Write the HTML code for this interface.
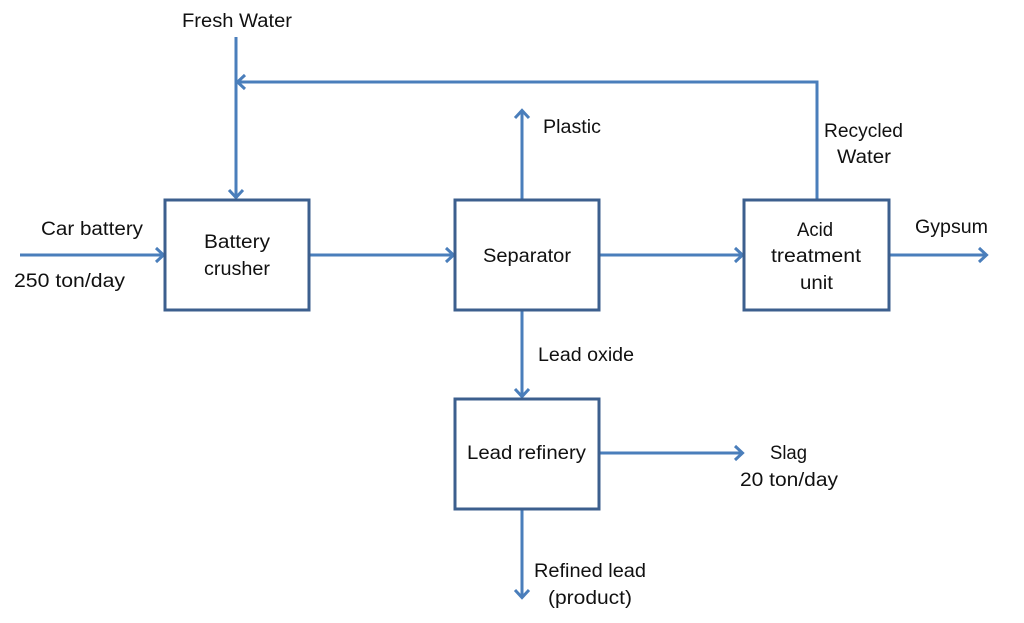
<!DOCTYPE html>
<html><head><meta charset="utf-8"><style>
html,body{margin:0;padding:0;background:#fff;width:1024px;height:623px;overflow:hidden}
svg text{font-family:"Liberation Sans",sans-serif;font-size:19px;fill:#111}
</style></head><body>
<svg width="1024" height="623" viewBox="0 0 1024 623" xmlns="http://www.w3.org/2000/svg">
<defs>
<marker id="a" viewBox="0 0 18 18" refX="16" refY="9" markerWidth="18" markerHeight="18" markerUnits="userSpaceOnUse" orient="auto">
<path d="M8,2 L15.5,9 L8,16" fill="none" stroke="#4a7ebb" stroke-width="3"/>
</marker>
</defs>
<g stroke="#4a7ebb" stroke-width="3" fill="none" marker-end="url(#a)">
<line x1="20" y1="255" x2="164" y2="255"/>
<line x1="309" y1="255" x2="454" y2="255"/>
<line x1="599" y1="255" x2="743" y2="255"/>
<line x1="889" y1="255" x2="987" y2="255"/>
<line x1="236" y1="37" x2="236" y2="198"/>
<polyline points="817,199 817,82 237,82"/>
<line x1="522" y1="199" x2="522" y2="110"/>
<line x1="522" y1="310" x2="522" y2="397"/>
<line x1="599" y1="453" x2="743" y2="453"/>
<line x1="522" y1="509" x2="522" y2="598"/>
</g>
<g stroke="#3c5f8e" stroke-width="3" fill="#fff">
<rect x="165" y="200" width="144" height="110"/>
<rect x="455" y="200" width="144" height="110"/>
<rect x="744" y="200" width="145" height="110"/>
<rect x="455" y="399" width="144" height="110"/>
</g>
<g>
<text x="182" y="27" textLength="110" lengthAdjust="spacingAndGlyphs">Fresh Water</text>
<text x="41" y="235" textLength="102" lengthAdjust="spacingAndGlyphs">Car battery</text>
<text x="14" y="287" textLength="111" lengthAdjust="spacingAndGlyphs">250 ton/day</text>
<text x="204" y="248" textLength="66" lengthAdjust="spacingAndGlyphs">Battery</text>
<text x="204" y="275" textLength="66" lengthAdjust="spacingAndGlyphs">crusher</text>
<text x="483" y="262" textLength="88" lengthAdjust="spacingAndGlyphs">Separator</text>
<text x="797" y="236" textLength="36" lengthAdjust="spacingAndGlyphs">Acid</text>
<text x="771" y="262" textLength="90" lengthAdjust="spacingAndGlyphs">treatment</text>
<text x="800" y="289" textLength="33" lengthAdjust="spacingAndGlyphs">unit</text>
<text x="543" y="133" textLength="58" lengthAdjust="spacingAndGlyphs">Plastic</text>
<text x="824" y="137" textLength="79" lengthAdjust="spacingAndGlyphs">Recycled</text>
<text x="837" y="163" textLength="54" lengthAdjust="spacingAndGlyphs">Water</text>
<text x="915" y="233" textLength="73" lengthAdjust="spacingAndGlyphs">Gypsum</text>
<text x="538" y="361" textLength="96" lengthAdjust="spacingAndGlyphs">Lead oxide</text>
<text x="467" y="459" textLength="119" lengthAdjust="spacingAndGlyphs">Lead refinery</text>
<text x="770" y="459" textLength="37" lengthAdjust="spacingAndGlyphs">Slag</text>
<text x="740" y="486" textLength="98" lengthAdjust="spacingAndGlyphs">20 ton/day</text>
<text x="534" y="577" textLength="112" lengthAdjust="spacingAndGlyphs">Refined lead</text>
<text x="548" y="604" textLength="84" lengthAdjust="spacingAndGlyphs">(product)</text>
</g>
</svg>
</body></html>
